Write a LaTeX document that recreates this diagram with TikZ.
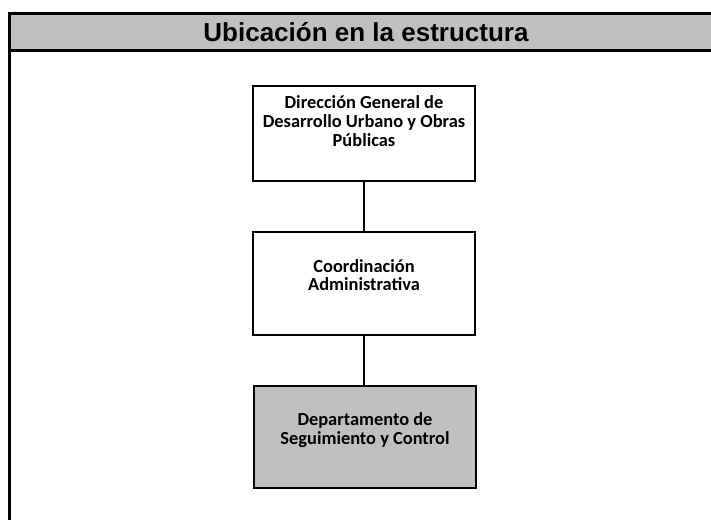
\documentclass[tikz,border=0pt]{standalone}
\usepackage{fontspec}
\setmainfont{Carlito}
\newfontfamily\headfont{Liberation Sans}
\usetikzlibrary{positioning}
\definecolor{HeadGray}{HTML}{C0C0C0}
\definecolor{BoxGray}{HTML}{C0C0C0}
\tikzset{
  orgbox/.style={draw=black, line width=1.8pt, fill=white, minimum width=166.5pt, inner sep=0pt},
  greybox/.style={orgbox, fill=BoxGray},
  boxtext/.style={align=center, font=\bfseries\fontsize{13.8}{14}\selectfont, inner sep=0pt},
  frame/.style={line width=2.4pt, draw=black},
  link/.style={line width=2.2pt, draw=black}
}
\begin{document}
\begin{tikzpicture}[x=.75pt,y=-.75pt]
\useasboundingbox (0,0) rectangle (711,520);
% header band
\fill[HeadGray] (9.5,13.5) rectangle (713,50.5);
\draw[frame] (713,13.5) -- (9.5,13.5) -- (9.5,522);
\draw[frame] (9.5,50.5) -- (713,50.5);
\node[font=\headfont\bfseries\fontsize{19.5}{22}\selectfont] (title) at (366,32) {Ubicación en la estructura};
% boxes
\node[orgbox,minimum height=71.25pt] (dg) at (364,133.5) {};
\node[orgbox,minimum height=77.25pt] (ca) at (364,283.5) {};
\node[greybox,minimum height=76.5pt] (ds) at (365,437) {};
\node[boxtext] (dgt) at (364,121) {Dirección General de\\Desarrollo Urbano y Obras\\Públicas};
\node[boxtext] (cat) at (364,275) {Coordinación\\Administrativa};
\node[boxtext] (dst) at (365,430) {Departamento de\\Seguimiento y Control};
% connectors
\draw[link] (dg.south) -- (ca.north);
\draw[link] (ca.south) -- (ca.south|-ds.north);
\end{tikzpicture}
\end{document}
